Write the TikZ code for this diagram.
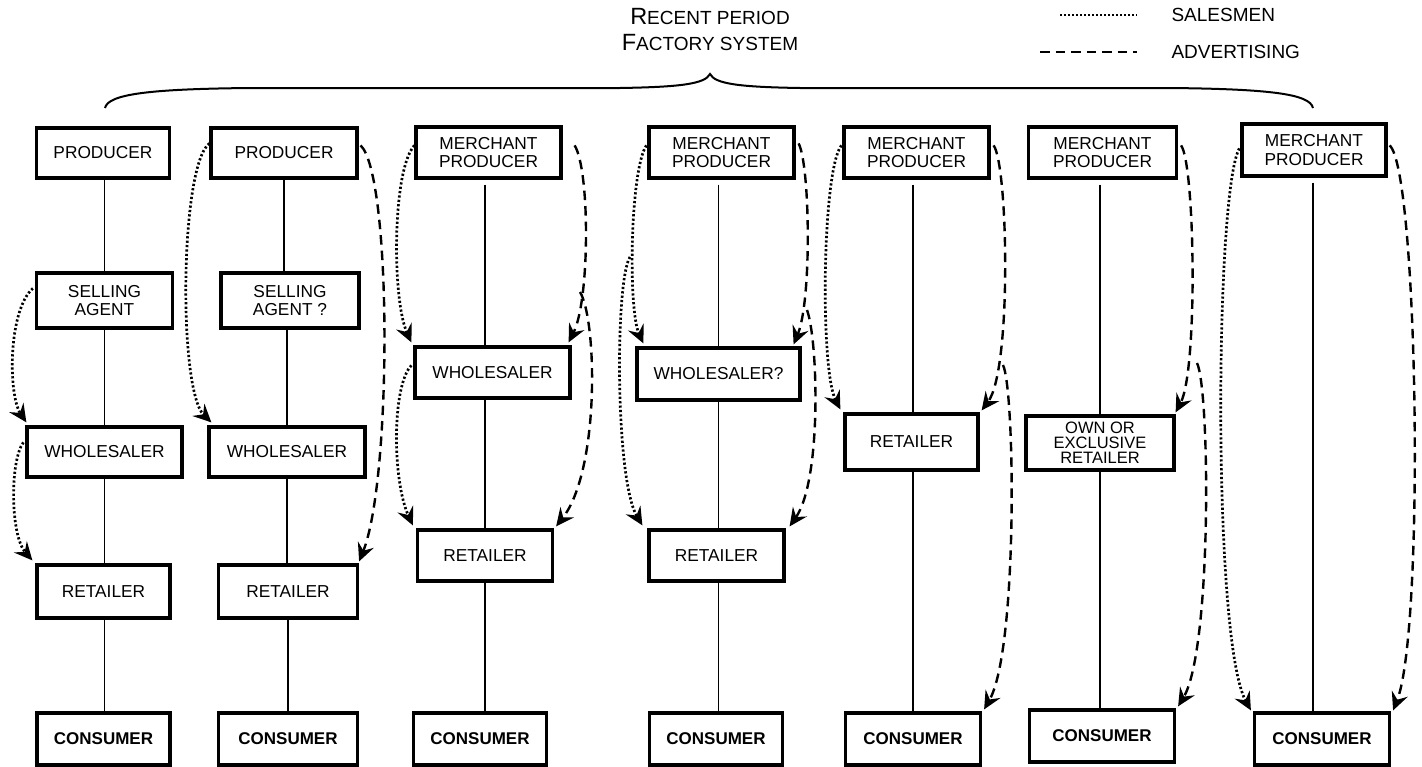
\documentclass[tikz,border=0pt]{standalone}
\usepackage{fontspec}
\usepackage{graphicx}
\setmainfont{Liberation Sans}
\usetikzlibrary{arrows.meta,calc}
\begin{document}
\begin{tikzpicture}[x=1pt,y=-1pt,
  box/.style={draw,line width=3.2pt,rectangle,inner sep=0pt,align=center,font=\fontsize{17.3}{18.5}\selectfont},
  cons/.style={box,font=\fontsize{17}{18.5}\selectfont\bfseries},
  link/.style={line width=1.9pt},
  tipA/.style={-{Stealth[length=18pt,width=17pt,inset=6.5pt]}},
  sales/.style={tipA,line width=2.7pt,dash pattern=on 2.2pt off 2.2pt},
  adv/.style={tipA,line width=2.4pt,dash pattern=on 9.5pt off 6pt},
  legtxt/.style={font=\fontsize{19}{22}\selectfont,anchor=west},
]
\useasboundingbox (0,0) rectangle (1422,766);

% title and brace
\node[align=center,font=\fontsize{23.5}{26}\selectfont] (title) at (710,30)
  {R{\fontsize{19}{26}\selectfont ECENT PERIOD}\\F{\fontsize{19}{26}\selectfont ACTORY SYSTEM}};
\draw[line width=2pt] (105,108) .. controls (108,94) and (150,89) .. (250,88) -- (620,88)
  .. controls (680,87) and (705,84) .. (710,74) .. controls (715,84) and (740,87) .. (800,88)
  -- (1170,88) .. controls (1270,89) and (1310,94) .. (1313,108);

% legend
\coordinate (ls1) at (1060,15); \coordinate (ls2) at (1137,15);
\coordinate (la1) at (1040,52); \coordinate (la2) at (1137,52);
\draw[line width=2.6pt,dash pattern=on 1.8pt off 2.2pt] (ls1) -- (ls2);
\draw[line width=2.4pt,dash pattern=on 9.5pt off 6pt] (la1) -- (la2);
\node[legtxt] (lsal) at (1168,15) {SALESMEN};
\node[legtxt] (ladv) at (1168,52) {ADVERTISING};

% column 1
\node[box,minimum width=133pt,minimum height=50pt] (p1) at (103,153) {PRODUCER};
\node[box,minimum width=136pt,minimum height=55pt] (s1) at (104.5,300.5) {SELLING\\AGENT};
\node[box,minimum width=155pt,minimum height=50pt] (w1) at (104.5,452) {WHOLESALER};
\node[box,minimum width=133pt,minimum height=53pt] (r1) at (103.5,591.5) {RETAILER};
\node[cons,minimum width=133pt,minimum height=52pt] (c1) at (103.5,739) {CONSUMER};
\draw[link] (p1.south -| s1) -- (s1.north);
\draw[link] (s1.south) -- (w1.north);
\draw[link] (w1.south) -- (r1.north -| w1);
\draw[link] (r1.south -| w1) -- (c1.north -| w1);
\draw[sales] ($(s1.north west)+(-2,17)$) .. controls (8,310) and (8,395) .. ($(w1.north west)+(1,-3)$);
\draw[sales] ($(w1.north west)+(-2,17)$) .. controls (10,460) and (10,535) .. ($(r1.north west)+(-3,-3)$);

% column 2
\node[box,minimum width=146pt,minimum height=50pt] (p2) at (284,153) {PRODUCER};
\node[box,minimum width=138pt,minimum height=55pt] (s2) at (290,300.5) {SELLING\\AGENT ?};
\node[box,minimum width=156pt,minimum height=50pt] (w2) at (287,452) {WHOLESALER};
\node[box,minimum width=139pt,minimum height=53pt] (r2) at (288,591.5) {RETAILER};
\node[cons,minimum width=139pt,minimum height=52pt] (c2) at (288,739) {CONSUMER};
\draw[link] (p2.south) -- (p2.south |- s2.north);
\draw[link] (s2.south -| w2) -- (w2.north);
\draw[link] (w2.south) -- (w2.south |- r2.north);
\draw[link] (r2.south) -- (c2.north);
\draw[sales] ($(p2.north west)+(0,17)$) .. controls (180,165) and (178,390) .. ($(w2.north west)+(4,-3)$);
\draw[adv] ($(p2.north east)+(2,19)$) .. controls (392,175) and (392,480) .. ($(r2.north east)+(0,-2)$);

% column 3
\node[box,minimum width=145pt,minimum height=51pt] (m3) at (488.5,152.5) {MERCHANT\\PRODUCER};
\node[box,minimum width=155pt,minimum height=51pt] (w3) at (492.5,372.5) {WHOLESALER};
\node[box,minimum width=135pt,minimum height=51pt] (r3) at (485,555.5) {RETAILER};
\node[cons,minimum width=133pt,minimum height=52pt] (c3) at (480,739) {CONSUMER};
\draw[link] ($(m3.south -| r3)+(0,5)$) -- (w3.north -| r3);
\draw[link] (w3.south -| r3) -- (r3.north);
\draw[link] (r3.south) -- (r3.south |- c3.north);
\coordinate (d3) at (580,292);
\draw[sales] ($(m3.north west)+(0,20)$) .. controls (392,170) and (392,300) .. ($(w3.north west)+(-2,-3)$);
\draw[adv] ($(m3.north east)+(12,20)$) .. controls (590,170) and (590,300) .. ($(w3.north east)+(-3,-3)$);
\draw[sales] ($(w3.north west)+(-2,20)$) .. controls (392,385) and (392,480) .. ($(r3.north west)+(-3,-3)$);
\draw[adv] (d3) .. controls (597,320) and (600,470) .. ($(r3.north east)+(2,-2)$);

% column 4
\node[box,minimum width=145pt,minimum height=51pt] (m4) at (721.5,152.5) {MERCHANT\\PRODUCER};
\node[box,minimum width=163pt,minimum height=52pt] (w4) at (718.5,374) {WHOLESALER?};
\node[box,minimum width=135pt,minimum height=51pt] (r4) at (716.5,555.5) {RETAILER};
\node[cons,minimum width=133pt,minimum height=52pt] (c4) at (716,739) {CONSUMER};
\draw[link] ($(m4.south -| w4)+(0,5)$) -- (w4.north);
\draw[link] (w4.south) -- (r4.north -| w4);
\draw[link] (r4.south -| w4) -- (c4.north -| w4);
\coordinate (e4) at (630,257);
\coordinate (f4) at (807,310);
\draw[sales] ($(m4.north west)+(-1,20)$) .. controls (630,170) and (628,310) .. ($(w4.north west)+(8,-3)$);
\draw[sales] (e4) .. controls (615,280) and (615,480) .. ($(r4.north west)+(-5,-3)$);
\draw[adv] ($(m4.north east)+(3,18)$) .. controls (810,165) and (812,300) .. ($(w4.north east)+(-8,-2)$);
\draw[adv] (f4) .. controls (818,340) and (822,480) .. ($(r4.north east)+(4,-2)$);

% column 5
\node[box,minimum width=145pt,minimum height=51pt] (m5) at (916.5,152.5) {MERCHANT\\PRODUCER};
\node[box,minimum width=133pt,minimum height=56pt] (r5) at (911.5,442) {RETAILER};
\node[cons,minimum width=135pt,minimum height=52pt] (c5) at (913,739) {CONSUMER};
\draw[link] ($(m5.south -| c5)+(0,5)$) -- (r5.north -| c5);
\draw[link] (r5.south -| c5) -- (c5.north);
\coordinate (g5) at (1003,365);
\draw[sales] ($(m5.north west)+(-1,20)$) .. controls (822,170) and (820,370) .. ($(r5.north west)+(-3,-3)$);
\draw[adv] ($(m5.north east)+(3,20)$) .. controls (1008,165) and (1012,370) .. ($(r5.north east)+(2,-2)$);
\draw[adv] (g5) .. controls (1015,390) and (1018,650) .. ($(c5.north east)+(2,-2)$);

% column 6
\node[box,minimum width=148pt,minimum height=51pt] (m6) at (1102.5,152.5) {MERCHANT\\PRODUCER};
\node[box,minimum width=148pt,minimum height=54pt,font=\fontsize{16.5}{15}\selectfont] (r6) at (1100,443) {OWN OR\\EXCLUSIVE\\RETAILER};
\node[cons,minimum width=145pt,minimum height=52pt] (c6) at (1102,736) {CONSUMER};
\draw[link] ($(m6.south -| r6)+(0,5)$) -- (r6.north);
\draw[link] (r6.south) -- (r6.south |- c6.north);
\coordinate (h6) at (1197,363);
\draw[adv] ($(m6.north east)+(3,20)$) .. controls (1195,165) and (1198,370) .. ($(r6.north east)+(0,-2)$);
\draw[adv] (h6) .. controls (1210,390) and (1212,650) .. ($(c6.north east)+(2,-2)$);

% column 7
\node[box,minimum width=144pt,minimum height=52pt] (m7) at (1314,150) {MERCHANT\\PRODUCER};
\node[cons,minimum width=135pt,minimum height=52pt] (c7) at (1322,739) {CONSUMER};
\draw[link] ($(m7.south)+(-1,5)$) -- ($(m7.south |- c7.north)+(-1,0)$);
\draw[sales] ($(m7.north west)+(-1,26)$) .. controls (1215,190) and (1212,640) .. ($(c7.north west)+(-2,-1)$);
\draw[adv] ($(m7.north east)+(2,23)$) .. controls (1418,170) and (1425,630) .. ($(c7.north east)+(2,-1)$);
\end{tikzpicture}
\end{document}
